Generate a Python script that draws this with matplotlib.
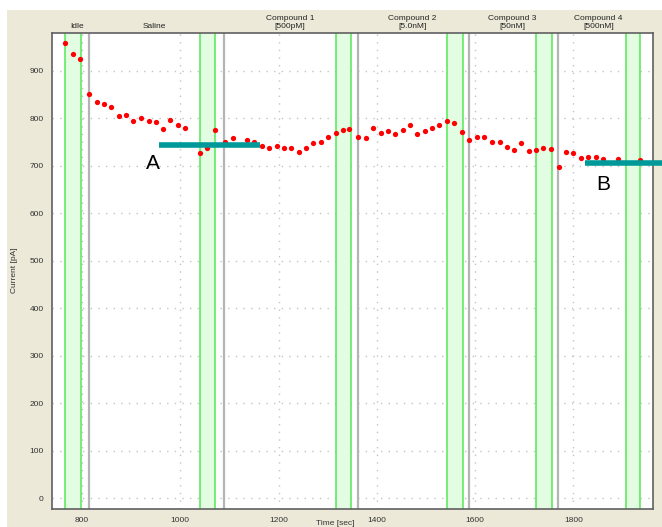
import matplotlib.pyplot as plt
import matplotlib.patches as patches
import numpy as np

time = [766, 782, 796, 815, 830, 844, 860, 875, 890, 904, 920, 936, 950, 965, 980, 995, 1010,
        1040, 1055, 1070, 1092, 1107, 1136, 1151, 1166, 1181, 1196, 1211, 1226, 1241, 1256, 1271,
        1286, 1301, 1316, 1331, 1344, 1362, 1377, 1393, 1408, 1423, 1438, 1453, 1468, 1482, 1498,
        1513, 1527, 1543, 1558, 1573, 1588, 1603, 1618, 1634, 1650, 1664, 1679, 1694, 1709, 1724,
        1738, 1754, 1770, 1785, 1800, 1815, 1830, 1846, 1860, 1890, 1935]
current = [957, 935, 925, 851, 834, 830, 823, 805, 806, 794, 800, 794, 792, 777, 796, 785, 780,
           727, 736, 774, 749, 758, 754, 749, 742, 737, 741, 737, 737, 729, 737, 747,
           750, 760, 769, 775, 776, 760, 758, 780, 769, 773, 767, 774, 785, 767, 773,
           780, 786, 794, 789, 771, 754, 760, 761, 749, 749, 739, 732, 747, 730, 732,
           737, 735, 698, 729, 726, 716, 718, 718, 714, 714, 711]

# protocol phases
phase_names = ['Idle', 'Saline', 'Compound 1\n[500pM]', 'Compound 2\n[5.0nM]',
               'Compound 3\n[50nM]', 'Compound 4\n[500nM]']
phase_label_x = [789, 948, 1223, 1472, 1676, 1851]
phase_bounds = [814, 1090, 1361, 1588, 1768]
wash_start = [766, 1041, 1317, 1543, 1724, 1907]
wash_end = [798, 1070, 1348, 1575, 1756, 1936]

# annotation bars
bar_a = [957, 1162, 743]
bar_b = [1824, 1985, 705]

plt.rcParams['font.family'] = ['Liberation Sans', 'DejaVu Sans']

fig = plt.figure(figsize=(6.62, 5.27), dpi=100)
fig.patch.set_facecolor('white')
fig.patches.append(patches.Rectangle((7 / 662, 0), 655 / 662, 517 / 527, transform=fig.transFigure,
                                     facecolor='#ece9d8', edgecolor='none', zorder=-1))

ax = fig.add_axes([52 / 662, 18 / 527, 601 / 662, 476 / 527])
ax.set_facecolor('white')

for s, e in zip(wash_start, wash_end):
    ax.axvspan(s, e, facecolor='#e2fde2', edgecolor='none', zorder=1)
    ax.axvline(s, color='#55e855', lw=1.1, zorder=2)
    ax.axvline(e, color='#55e855', lw=1.1, zorder=2)
for b in phase_bounds:
    ax.axvline(b, color='#b4b4b4', lw=1.6, zorder=2)

ax.plot(time, current, 'o', color='#ff0000', ms=3.8, mec='none', zorder=4)

# teal markers with letters
ax.plot(bar_a[:2], [bar_a[2], bar_a[2]], color='#009999', lw=4, solid_capstyle='butt',
        clip_on=False, zorder=5)
ax.plot(bar_b[:2], [bar_b[2], bar_b[2]], color='#009999', lw=4, solid_capstyle='butt',
        clip_on=False, zorder=5)
ax.text(945, 704, 'A', fontsize=15, ha='center', va='center', zorder=6)
ax.text(1861, 660, 'B', fontsize=15, ha='center', va='center', zorder=6)

for name, x in zip(phase_names, phase_label_x):
    ax.text(x, 1.007, name, transform=ax.get_xaxis_transform(), fontsize=6, ha='center',
            va='bottom', linespacing=1.05, color='#222222')

ax.set_xlim(739, 1962)
ax.set_ylim(-22.5, 979)
ax.set_xticks(np.arange(800, 1801, 200))
ax.set_yticks(np.arange(0, 901, 100))
ax.tick_params(length=0, labelsize=6, labelcolor='#333333', pad=6)
ax.grid(True, color='#c4c4c4', linestyle=(0, (1, 4.5)), lw=1.0, zorder=0)
ax.set_axisbelow(True)
for side in ax.spines:
    ax.spines[side].set_color('#606060')
    ax.spines[side].set_linewidth(1.2)

fig.text(15 / 662, 1 - 270 / 527, 'Current [pA]', rotation=90, fontsize=6, ha='center',
         va='center', color='#333333')
fig.text(335 / 662, 1 - 520 / 527, 'Time [sec]', fontsize=6, ha='center', va='top',
         color='#333333')

fig.savefig('out.png', dpi=100)
